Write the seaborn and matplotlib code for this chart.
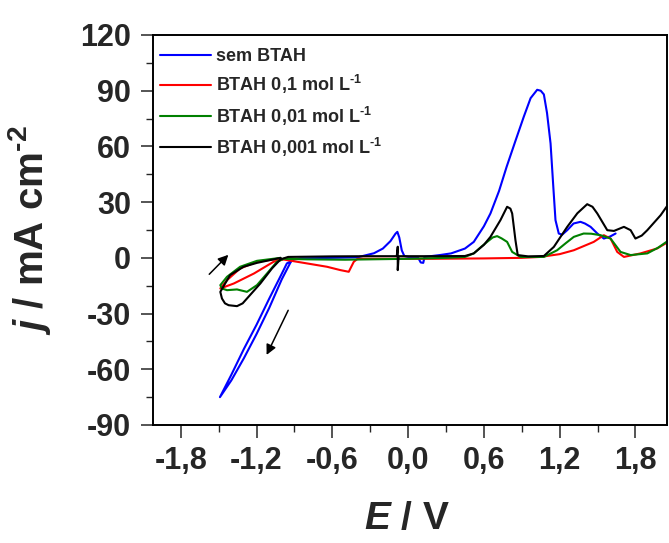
import matplotlib
matplotlib.use("Agg")
import matplotlib.pyplot as plt
import seaborn as sns
import pandas as pd
from matplotlib.ticker import MultipleLocator, FuncFormatter

# ---- data ----
labels = ["sem BTAH", r"BTAH 0,1 mol L$^{\text{-1}}$", r"BTAH 0,01 mol L$^{\text{-1}}$",
          r"BTAH 0,001 mol L$^{\text{-1}}$"]
colors = ["#0000FF", "#FF0000", "#008000", "#000000"]

E_sem = [-0.92, -1.00, -1.10, -1.20, -1.30, -1.40, -1.49, -1.40, -1.30, -1.20, -1.10, -1.00, -0.96, -0.90,
         -0.85, -0.60, -0.40, -0.27, -0.20, -0.14, -0.10, -0.085, -0.07, -0.05, -0.03, 0.00, 0.08, 0.10, 0.12,
         0.13, 0.25, 0.34, 0.45, 0.52, 0.60, 0.652, 0.72, 0.78, 0.85, 0.916, 0.97, 1.022, 1.05, 1.075, 1.10,
         1.128, 1.15, 1.167, 1.193, 1.22, 1.26, 1.31, 1.365, 1.40, 1.445, 1.50, 1.55, 1.60, 1.643]
j_sem = [-1.0, -11.5, -27.0, -41.0, -54.0, -66.0, -75.0, -63.0, -49.0, -36.0, -22.0, -8.5, -3.0, -0.8,
         -0.3, 0.0, 0.3, 2.5, 5.0, 9.0, 13.0, 14.0, 11.0, 4.0, 1.0, 0.5, 0.0, -2.5, -2.7,
         0.5, 1.5, 2.4, 5.0, 8.6, 17.0, 23.9, 36.0, 49.0, 63.0, 76.0, 86.0, 90.5, 90.0, 88.0, 78.0,
         61.6, 38.0, 20.3, 13.1, 12.5, 14.9, 18.5, 19.4, 18.5, 16.7, 13.0, 10.4, 11.5, 13.1]

E_01 = [-1.01, -1.197, -1.33, -1.434, -1.487, -1.38, -1.22, -1.065, -0.986, -0.80, -0.642, -0.536, -0.47,
        -0.43, -0.40, -0.20, 0.20, 0.60, 0.90, 1.048, 1.20, 1.312, 1.47, 1.55, 1.603, 1.656, 1.709, 1.84,
        1.97, 2.06]
j_01 = [-0.3, -2.1, -5.7, -12.0, -16.5, -13.8, -8.4, -2.1, -0.9, -3.0, -4.8, -6.6, -7.5,
        -2.1, -0.5, -0.5, -0.5, -0.3, 0.0, 0.5, 2.0, 4.1, 8.6, 12.2, 10.4, 3.2, 0.5, 2.4,
        5.0, 8.6]

E_001 = [-1.01, -1.197, -1.33, -1.434, -1.487, -1.474, -1.434, -1.355, -1.276, -1.197, -1.117, -1.038,
         -0.986, -0.80, -0.50, -0.30, 0.00, 0.30, 0.45, 0.52, 0.58, 0.626, 0.67, 0.705, 0.74, 0.784, 0.824,
         0.89, 1.075, 1.18, 1.25, 1.312, 1.39, 1.45, 1.524, 1.603, 1.682, 1.762, 1.894, 1.98, 2.065]
j_001 = [0.0, -1.6, -4.8, -10.2, -14.7, -16.5, -17.4, -17.0, -18.3, -14.7, -8.4, -2.1,
         -0.5, -0.8, -1.0, -0.8, -0.5, 0.0, 0.5, 2.4, 6.0, 8.6, 11.0, 11.7, 10.5, 8.6, 3.2,
         0.5, 0.5, 4.1, 8.0, 11.3, 13.1, 13.0, 12.2, 10.4, 3.2, 1.5, 2.4, 5.5, 9.5]

E_0001 = [-1.01, -1.197, -1.303, -1.41, -1.487, -1.474, -1.45, -1.421, -1.355, -1.31, -1.276, -1.17, -1.078,
          -1.01, -0.95, -0.60, -0.30, -0.09, -0.082, -0.082, -0.075, 0.20, 0.45, 0.52, 0.60, 0.652, 0.731,
          0.784, 0.81, 0.824, 0.85, 0.868, 0.95, 1.075, 1.154, 1.26, 1.34, 1.418, 1.46, 1.498, 1.577, 1.63,
          1.709, 1.762, 1.80, 1.85, 1.894, 2.00, 2.065]
j_0001 = [0.0, -2.7, -4.8, -9.3, -18.3, -21.9, -24.5, -25.5, -26.0, -24.5, -21.9, -13.8, -5.7,
          -0.8, 0.5, 0.8, 0.9, 0.9, 6.0, -6.6, 0.9, 0.9, 1.0, 2.4, 7.0, 11.3, 20.3,
          27.5, 26.5, 23.9, 9.5, 1.5, 0.8, 1.0, 5.9, 16.7, 24.0, 28.9, 27.5, 23.9, 14.9, 14.5,
          16.7, 14.9, 10.4, 12.0, 14.9, 23.0, 29.3]

x_major = [-1.8, -1.2, -0.6, 0.0, 0.6, 1.2, 1.8]
y_major = [-90, -60, -30, 0, 30, 60, 90, 120]

series = [(E_sem, j_sem), (E_01, j_01), (E_001, j_001), (E_0001, j_0001)]
frames = []
for lab, (E, j) in zip(labels, series):
    frames.append(pd.DataFrame({"E": E, "j": j, "serie": lab}))
df = pd.concat(frames, ignore_index=True)

# ---- style ----
sns.set_theme(style="white")
plt.rcParams["font.family"] = ["Liberation Sans", "DejaVu Sans"]
plt.rcParams["font.weight"] = "bold"
plt.rcParams["mathtext.fontset"] = "custom"
plt.rcParams["mathtext.rm"] = "Liberation Sans:bold"
plt.rcParams["mathtext.it"] = "Liberation Sans:bold:italic"
plt.rcParams["mathtext.bf"] = "Liberation Sans:bold"

fig = plt.figure(figsize=(6.69, 5.43), dpi=100)
ax = fig.add_axes([153 / 669, 1 - 425 / 543, 514 / 669, 390 / 543])

sns.lineplot(data=df, x="E", y="j", hue="serie", palette=dict(zip(labels, colors)),
             sort=False, estimator=None, linewidth=1.5, ax=ax, legend=True)

ax.set_xlim(-2.02, 2.05)
ax.set_ylim(-90, 120)
ax.set_xticks(x_major)
ax.set_yticks(y_major)
ax.xaxis.set_minor_locator(MultipleLocator(0.3))
ax.yaxis.set_minor_locator(MultipleLocator(15))
ax.xaxis.set_major_formatter(FuncFormatter(lambda v, p: f"{v:.1f}".replace(".", ",").replace("-0,0", "0,0")))
ax.yaxis.set_major_formatter(FuncFormatter(lambda v, p: f"{int(round(v))}"))

ax.tick_params(which="both", direction="out", bottom=True, left=True, top=False, right=False)
ax.tick_params(which="major", length=9, width=1.1, labelsize=22, pad=6)
ax.tick_params(which="minor", length=5, width=1.0)
ax.tick_params(axis="y", which="major", pad=7)
for lab in ax.get_xticklabels() + ax.get_yticklabels():
    lab.set_fontweight("bold")
for s in ax.spines.values():
    s.set_visible(True)
    s.set_color("black")
    s.set_linewidth(1.4)

ax.set_xlabel(r"$\it{E}$ / V", fontsize=28, fontweight="bold")
ax.set_ylabel(r"$\it{j}$ / mA cm$^{\text{-2}}$", fontsize=29, fontweight="bold")
ax.xaxis.set_label_coords(0.494, -0.195)
ax.yaxis.set_label_coords(-0.195, 0.5)

# arrows (scan direction)
ax.annotate("", xy=(-1.408, 2.7), xytext=(-1.59, -9.9),
            arrowprops=dict(arrowstyle="-|>", color="black", lw=1.1, mutation_scale=15))
ax.annotate("", xy=(-1.13, -53.6), xytext=(-0.94, -26.9),
            arrowprops=dict(arrowstyle="-|>", color="black", lw=1.1, mutation_scale=15))

h, l = ax.get_legend_handles_labels()
leg = ax.legend(h, l, loc="upper left", bbox_to_anchor=(0.0, 0.985), frameon=False,
                prop={"weight": "bold", "size": 13}, handlelength=2.8, labelspacing=0.45,
                handletextpad=0.3, borderaxespad=0.0, borderpad=0.4)
for line in leg.get_lines():
    line.set_linewidth(1.5)

fig.savefig("out.png", dpi=100)
